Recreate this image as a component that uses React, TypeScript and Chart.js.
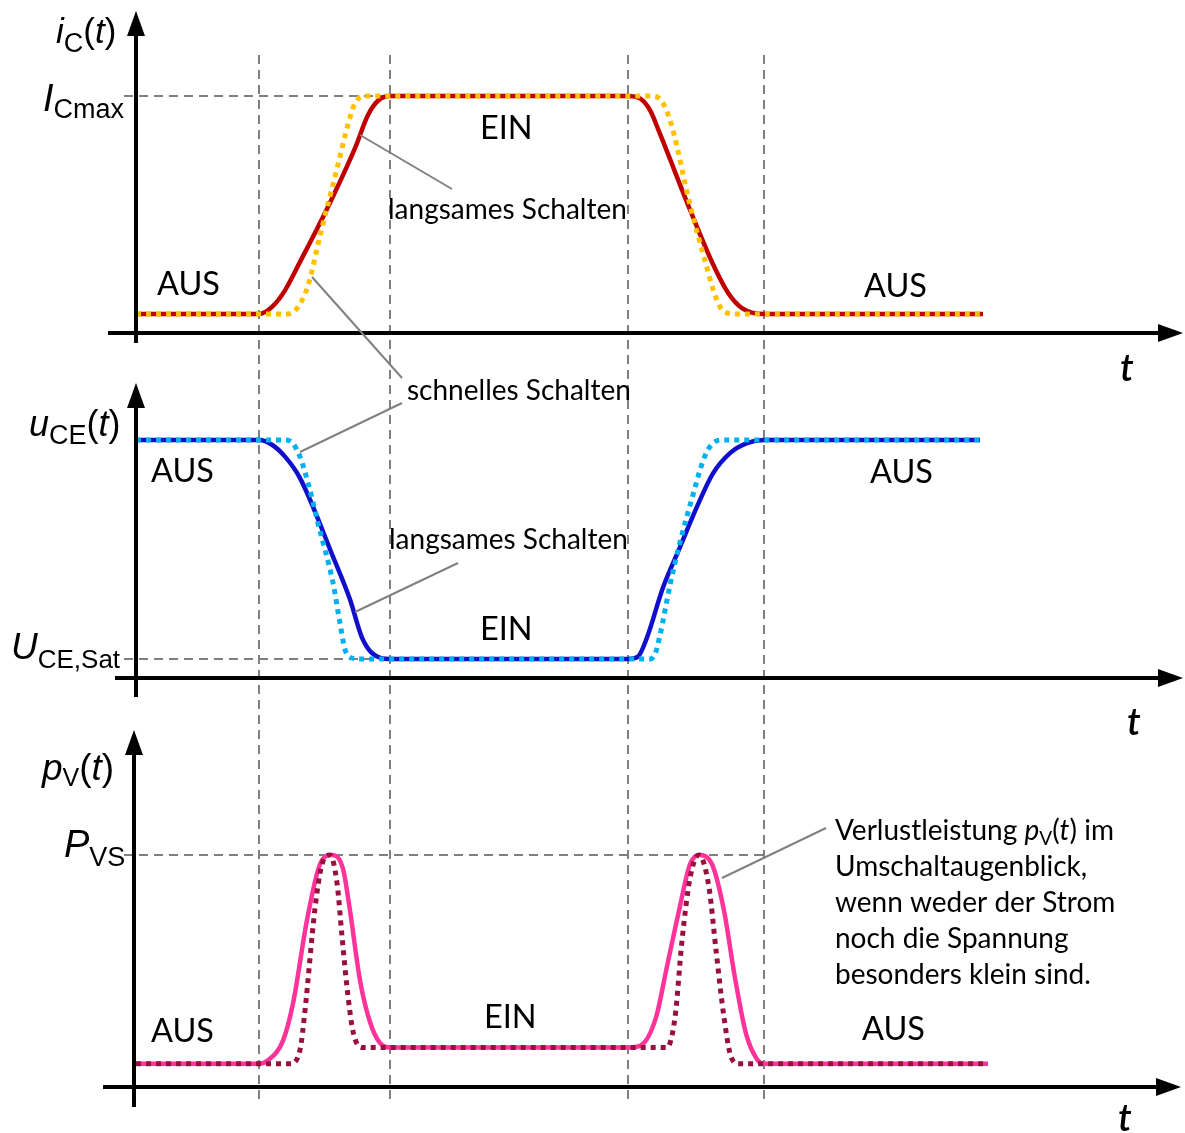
import React, { useEffect, useRef } from "react";
import { Chart, registerables } from "chart.js";

Chart.register(...registerables);

const W = 1185;
const H = 1133;

// time axis in µs, origin at the vertical axis
const SWITCH_TIMES = [1.23, 2.54, 4.92, 6.28];

// collector current i_C(t), normalised to I_Cmax
const IC_SLOW_T = [0, 1.23, 1.36, 1.49, 1.64, 1.94, 2.19, 2.32, 2.42, 2.54, 4.92, 5.04, 5.14, 5.24, 5.54, 5.77, 5.92, 6.06, 6.28, 8.47];
const IC_SLOW_V = [0.08, 0.08, 0.11, 0.18, 0.3, 0.55, 0.78, 0.92, 0.98, 1.0, 1.0, 0.99, 0.94, 0.84, 0.52, 0.29, 0.17, 0.105, 0.08, 0.08];
const IC_FAST_T = [0, 1.51, 1.62, 1.72, 1.84, 2.02, 2.12, 2.19, 2.3, 5.17, 5.27, 5.36, 5.54, 5.7, 5.79, 5.88, 6.02, 8.47];
const IC_FAST_V = [0.08, 0.08, 0.11, 0.2, 0.41, 0.71, 0.88, 0.97, 1.0, 1.0, 0.97, 0.87, 0.54, 0.29, 0.16, 0.09, 0.08, 0.08];

// collector-emitter voltage u_CE(t), normalised
const UCE_SLOW_T = [0, 1.23, 1.36, 1.49, 1.64, 1.97, 2.14, 2.26, 2.36, 2.54, 4.92, 5.02, 5.11, 5.27, 5.44, 5.61, 5.77, 5.94, 6.11, 6.28, 8.44];
const UCE_SLOW_V = [1, 1, 0.98, 0.93, 0.84, 0.51, 0.33, 0.17, 0.105, 0.08, 0.08, 0.09, 0.17, 0.38, 0.55, 0.72, 0.86, 0.945, 0.987, 1, 1];
const UCE_FAST_T = [0, 1.49, 1.57, 1.64, 1.72, 1.82, 1.97, 2.04, 2.09, 2.15, 2.24, 5.14, 5.19, 5.24, 5.34, 5.44, 5.57, 5.66, 5.72, 5.8, 5.86, 8.44];
const UCE_FAST_V = [1, 1, 0.985, 0.93, 0.82, 0.65, 0.4, 0.23, 0.12, 0.085, 0.08, 0.08, 0.1, 0.18, 0.39, 0.57, 0.77, 0.9, 0.96, 0.995, 1, 1];

// power loss p_V(t), normalised to P_VS
const PV_SLOW_T = [0, 1.23, 1.32, 1.47, 1.57, 1.71, 1.84, 1.96, 2.07, 2.14, 2.24, 2.34, 2.44, 2.56, 4.92, 5.05, 5.2, 5.31, 5.43, 5.54, 5.63, 5.76, 5.88, 5.99, 6.1, 6.21, 6.28, 8.52];
const PV_SLOW_V = [0.1, 0.1, 0.115, 0.2, 0.36, 0.72, 0.96, 1.0, 0.94, 0.76, 0.46, 0.28, 0.19, 0.17, 0.17, 0.18, 0.3, 0.52, 0.76, 0.96, 1.0, 0.96, 0.76, 0.47, 0.23, 0.12, 0.1, 0.1];
const PV_FAST_T = [0, 1.54, 1.64, 1.69, 1.79, 1.86, 1.94, 2.01, 2.06, 2.11, 2.17, 2.26, 5.31, 5.39, 5.46, 5.54, 5.63, 5.73, 5.8, 5.88, 5.95, 6.03, 8.52];
const PV_FAST_V = [0.1, 0.1, 0.16, 0.33, 0.77, 0.96, 1.0, 0.88, 0.65, 0.43, 0.24, 0.17, 0.17, 0.3, 0.63, 0.9, 1.0, 0.86, 0.59, 0.3, 0.13, 0.1, 0.1];

const IC_MAX = 1;
const UCE_SAT = 0.08;
const PVS = 1;

const ON_OFF_LABELS = ["AUS", "EIN", "AUS"];

const AR = '"Liberation Sans", Arial, sans-serif';
const CAL = 'Lato, "Open Sans", sans-serif';
const GREY = "#808080";

const pts = (T: number[], V: number[]) => T.map((t, i) => ({ x: t, y: V[i] }));

// scale range so that value 0 sits at zeroPx and value 1 at onePx on a full-height area
function yRange(zeroPx: number, onePx: number) {
  const k = zeroPx - onePx;
  return { min: -(H - zeroPx) / k, max: zeroPx / k };
}

function seg(ctx: CanvasRenderingContext2D, x1: number, y1: number, x2: number, y2: number) {
  ctx.beginPath();
  ctx.moveTo(x1, y1);
  ctx.lineTo(x2, y2);
  ctx.stroke();
}

function arrow(ctx: CanvasRenderingContext2D, x1: number, y1: number, x2: number, y2: number) {
  const len = Math.hypot(x2 - x1, y2 - y1);
  const ux = (x2 - x1) / len;
  const uy = (y2 - y1) / len;
  const head = 25;
  const half = 9;
  const bx = x2 - ux * head;
  const by = y2 - uy * head;
  ctx.beginPath();
  ctx.moveTo(x1, y1);
  ctx.lineTo(bx + ux * 2, by + uy * 2);
  ctx.stroke();
  ctx.beginPath();
  ctx.moveTo(x2, y2);
  ctx.lineTo(bx - uy * half, by + ux * half);
  ctx.lineTo(bx + uy * half, by - ux * half);
  ctx.closePath();
  ctx.fill();
}

type Run = { t: string; f: string; dy?: number };
function runs(ctx: CanvasRenderingContext2D, x: number, y: number, rs: Run[]) {
  let cx = x;
  for (const r of rs) {
    ctx.font = r.f;
    ctx.fillText(r.t, cx, y + (r.dy || 0));
    cx += ctx.measureText(r.t).width;
  }
}

function fitSize(ctx: CanvasRenderingContext2D, text: string, family: string, width: number) {
  ctx.font = `100px ${family}`;
  return (100 * width) / ctx.measureText(text).width;
}

const decor = {
  id: "decor",
  beforeDatasetsDraw(chart: any) {
    const { ctx, scales } = chart;
    const sx = scales.x;
    ctx.save();
    ctx.strokeStyle = GREY;
    ctx.lineWidth = 2;
    ctx.setLineDash([9, 6]);
    for (const t of SWITCH_TIMES) {
      const px = sx.getPixelForValue(t);
      seg(ctx, px, 55, px, 1100);
    }
    const yI = scales.yI.getPixelForValue(IC_MAX);
    seg(ctx, 124, yI, sx.getPixelForValue(SWITCH_TIMES[1]), yI);
    const yU = scales.yU.getPixelForValue(UCE_SAT);
    seg(ctx, 124, yU, sx.getPixelForValue(SWITCH_TIMES[1]), yU);
    const yP = scales.yP.getPixelForValue(PVS);
    seg(ctx, 124, yP, sx.getPixelForValue(SWITCH_TIMES[3]), yP);
    ctx.restore();
  },
  afterDatasetsDraw(chart: any) {
    const { ctx, scales } = chart;
    const sx = scales.x;
    const x0 = sx.getPixelForValue(0);
    ctx.save();
    // axes
    ctx.strokeStyle = "#000";
    ctx.fillStyle = "#000";
    ctx.lineWidth = 4;
    ctx.setLineDash([]);
    const aI = scales.yI.getPixelForValue(0);
    const aU = scales.yU.getPixelForValue(0);
    const aP = scales.yP.getPixelForValue(0);
    arrow(ctx, x0, 343, x0, 11);
    arrow(ctx, 108, aI, 1183, aI);
    arrow(ctx, x0, 697, x0, 383);
    arrow(ctx, 115, aU, 1183, aU);
    arrow(ctx, x0 - 2, 1107, x0 - 2, 730);
    arrow(ctx, 103, aP, 1181, aP);

    // callout lines
    ctx.strokeStyle = GREY;
    ctx.lineWidth = 2;
    seg(ctx, 360, 135, 452, 189);
    seg(ctx, 312, 277, 402, 378);
    seg(ctx, 402, 403, 300, 452);
    seg(ctx, 458, 563, 355, 612);
    seg(ctx, 826, 828, 722, 878);

    ctx.fillStyle = "#000";
    ctx.textBaseline = "alphabetic";
    ctx.textAlign = "left";

    // axis labels
    const it = (s: number) => `italic ${s}px ${AR}`;
    const up = (s: number) => `${s}px ${AR}`;
    runs(ctx, 56, 43, [
      { t: "i", f: it(35) },
      { t: "C", f: up(27), dy: 9 },
      { t: "(", f: up(35) },
      { t: "t", f: it(35) },
      { t: ")", f: up(35) },
    ]);
    runs(ctx, 43, 111, [
      { t: "I", f: it(38) },
      { t: "Cmax", f: up(27), dy: 7 },
    ]);
    runs(ctx, 29, 436, [
      { t: "u", f: it(36) },
      { t: "CE", f: up(27), dy: 8 },
      { t: "(", f: up(36) },
      { t: "t", f: it(36) },
      { t: ")", f: up(36) },
    ]);
    runs(ctx, 11, 659, [
      { t: "U", f: it(37) },
      { t: "CE,Sat", f: up(26), dy: 9 },
    ]);
    runs(ctx, 42, 780, [
      { t: "p", f: it(37) },
      { t: "V", f: up(25), dy: 6 },
      { t: "(", f: up(37) },
      { t: "t", f: it(37) },
      { t: ")", f: up(37) },
    ]);
    runs(ctx, 64, 857, [
      { t: "P", f: it(38) },
      { t: "VS", f: up(27), dy: 9 },
    ]);

    // time labels
    ctx.font = `italic 600 38px ${CAL}`;
    ctx.fillText("t", 1120, 381);
    ctx.fillText("t", 1127, 735);
    ctx.fillText("t", 1118, 1131);

    // state labels
    const big = fitSize(ctx, "AUS", CAL, 63);
    ctx.font = `${big}px ${CAL}`;
    const [aus, ein, aus2] = ON_OFF_LABELS;
    ctx.fillText(aus, 157, 295);
    ctx.fillText(ein, 480, 139);
    ctx.fillText(aus2, 864, 297);
    ctx.fillText(aus, 151, 482);
    ctx.fillText(aus2, 870, 483);
    ctx.fillText(ein, 480, 640);
    ctx.fillText(aus, 151, 1042);
    ctx.fillText(ein, 484, 1028);
    ctx.fillText(aus2, 862, 1040);

    // annotations
    const sm = fitSize(ctx, "langsames Schalten", CAL, 239);
    ctx.font = `${sm}px ${CAL}`;
    ctx.fillText("langsames Schalten", 388, 219);
    ctx.fillText("schnelles Schalten", 407, 400);
    ctx.fillText("langsames Schalten", 389, 549);

    const f = `${sm}px ${CAL}`;
    runs(ctx, 835, 840, [
      { t: "Verlustleistung ", f },
      { t: "p", f: `italic ${sm}px ${CAL}` },
      { t: "V", f: `${sm * 0.68}px ${CAL}`, dy: 5 },
      { t: "(", f },
      { t: "t", f: `italic ${sm}px ${CAL}` },
      { t: ") im", f },
    ]);
    ctx.font = f;
    ctx.fillText("Umschaltaugenblick,", 835, 876);
    ctx.fillText("wenn weder der Strom", 835, 912);
    ctx.fillText("noch die Spannung", 835, 948);
    ctx.fillText("besonders klein sind.", 835, 984);
    ctx.restore();
  },
};

export default function App() {
  const ref = useRef<HTMLCanvasElement>(null);
  useEffect(() => {
    const canvas = ref.current;
    if (!canvas) return;
    const solid = (data: any, color: string, axis: string) => ({
      data,
      yAxisID: axis,
      borderColor: color,
      borderWidth: 4.5,
      fill: false,
      order: 2,
      borderJoinStyle: "round",
    });
    const dotted = (data: any, color: string, axis: string) => ({
      data,
      yAxisID: axis,
      borderColor: color,
      borderWidth: 5,
      borderDash: [5, 5],
      fill: false,
      order: 1,
    });
    const chart = new Chart(canvas, {
      type: "line",
      data: {
        datasets: [
          { label: "iC langsam", ...solid(pts(IC_SLOW_T, IC_SLOW_V), "#C00000", "yI") },
          { label: "iC schnell", ...dotted(pts(IC_FAST_T, IC_FAST_V), "#FFC000", "yI") },
          { label: "uCE langsam", ...solid(pts(UCE_SLOW_T, UCE_SLOW_V), "#1010CC", "yU") },
          { label: "uCE schnell", ...dotted(pts(UCE_FAST_T, UCE_FAST_V), "#00B0F0", "yU") },
          { label: "pV langsam", ...solid(pts(PV_SLOW_T, PV_SLOW_V), "#FF3399", "yP") },
          { label: "pV schnell", ...dotted(pts(PV_FAST_T, PV_FAST_V), "#99103F", "yP") },
        ] as any,
      },
      options: {
        responsive: false,
        animation: false,
        devicePixelRatio: 1,
        layout: { padding: 0 },
        plugins: {
          legend: { display: false },
          tooltip: { enabled: false },
          title: { display: false },
        },
        elements: {
          point: { radius: 0, hoverRadius: 0 },
          line: { cubicInterpolationMode: "monotone", capBezierPoints: true },
        },
        scales: {
          x: { type: "linear", display: false, min: -1.36, max: (W - 136) / 100 },
          yI: { type: "linear", display: false, ...yRange(333, 96) },
          yU: { type: "linear", display: false, ...yRange(678, 440) },
          yP: { type: "linear", display: false, ...yRange(1087, 855) },
        },
      } as any,
      plugins: [decor],
    });
    return () => chart.destroy();
  }, []);
  return (
    <div style={{ position: "absolute", left: 0, top: 0, width: W, height: H, background: "#fff" }}>
      <canvas ref={ref} width={W} height={H} style={{ display: "block" }} />
    </div>
  );
}
